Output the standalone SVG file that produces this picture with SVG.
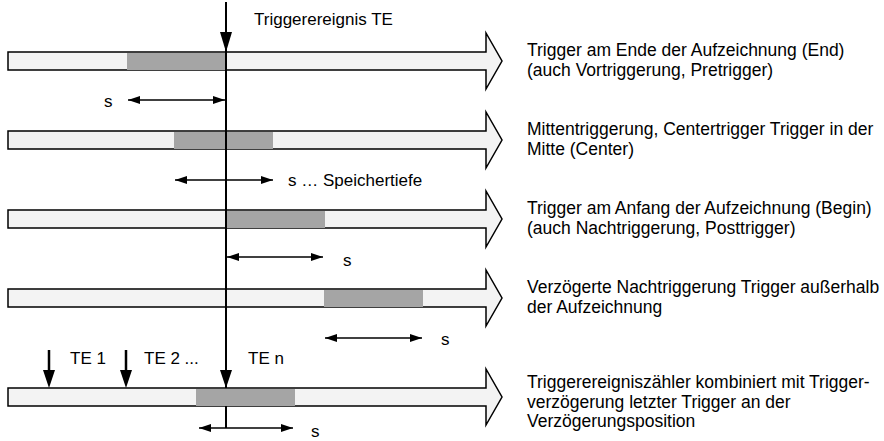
<svg xmlns="http://www.w3.org/2000/svg" width="884" height="441" viewBox="0 0 884 441">
  <defs>
    <style>
      .bar { fill: #f3f3f3; stroke: #000; stroke-width: 1.5; stroke-linejoin: miter; }
      .win { fill: #a5a5a5; stroke: none; }
      .axis { stroke: #000; stroke-width: 2; fill: none; }
      .dim { stroke: #000; stroke-width: 1.5; fill: none; marker-start: url(#tipStart); marker-end: url(#tipEnd); }
      .ev { stroke: #000; stroke-width: 2.5; fill: none; }
      .head { fill: #000; stroke: none; }
      text { font-family: "Liberation Sans", Arial, sans-serif; font-size: 17px; fill: #000; }
      .desc { font-size: 17.5px; }
    </style>
    <marker id="tipEnd" viewBox="0 0 12 8" refX="12" refY="4" markerWidth="12" markerHeight="8" markerUnits="userSpaceOnUse" orient="auto">
      <path d="M0,0 L12,4 L0,8 Z" fill="#000"/>
    </marker>
    <marker id="tipStart" viewBox="0 0 12 8" refX="0" refY="4" markerWidth="12" markerHeight="8" markerUnits="userSpaceOnUse" orient="auto">
      <path d="M12,0 L0,4 L12,8 Z" fill="#000"/>
    </marker>
    <!-- time axis arrow, bar top at y=0 -->
    <path id="timebar" d="M8,0 H486 V-19 L502,9 L486,37 V18 H8 Z"/>
  </defs>

  <!-- row 1: trigger at end -->
  <g id="row-end">
    <use href="#timebar" class="bar" y="52"/>
    <rect class="win" x="127" y="53" width="99" height="17"/>
    <text class="desc" x="527" y="56">Trigger am Ende der Aufzeichnung (End)</text>
    <text class="desc" x="527" y="75.5">(auch Vortriggerung, Pretrigger)</text>
  </g>

  <!-- row 2: center trigger -->
  <g id="row-center">
    <use href="#timebar" class="bar" y="131"/>
    <rect class="win" x="174" y="132" width="99" height="17"/>
    <text class="desc" x="527" y="135">Mittentriggerung, Centertrigger Trigger in der</text>
    <text class="desc" x="527" y="154.5">Mitte (Center)</text>
  </g>

  <!-- row 3: trigger at begin -->
  <g id="row-begin">
    <use href="#timebar" class="bar" y="210"/>
    <rect class="win" x="226" y="211" width="99" height="17"/>
    <text class="desc" x="527" y="214">Trigger am Anfang der Aufzeichnung (Begin)</text>
    <text class="desc" x="527" y="233.5">(auch Nachtriggerung, Posttrigger)</text>
  </g>

  <!-- row 4: delayed post trigger -->
  <g id="row-delayed">
    <use href="#timebar" class="bar" y="289"/>
    <rect class="win" x="324" y="290" width="99" height="17"/>
    <text class="desc" x="527" y="293">Verzögerte Nachtriggerung Trigger außerhalb</text>
    <text class="desc" x="527" y="312.5">der Aufzeichnung</text>
  </g>

  <!-- row 5: event counter -->
  <g id="row-counter">
    <use href="#timebar" class="bar" y="388"/>
    <rect class="win" x="196" y="389" width="99" height="17"/>
    <text class="desc" x="527" y="388">Triggerereigniszähler kombiniert mit Trigger-</text>
    <text class="desc" x="527" y="407.5">verzögerung letzter Trigger an der</text>
    <text class="desc" x="527" y="427">Verzögerungsposition</text>
  </g>

  <!-- trigger event and memory depth markers -->
  <g id="connectors">
    <line class="axis" x1="226" y1="2" x2="226" y2="388"/>
    <line class="axis" x1="226" y1="406" x2="226" y2="428"/>
    <path class="head" d="M220,32 L232,32 L226,52 Z"/>
    <text x="254" y="25">Triggerereignis TE</text>

    <line class="dim" x1="128" y1="100" x2="225" y2="100"/>
    <text x="104" y="107">s</text>

    <line class="dim" x1="175" y1="180" x2="273" y2="180"/>
    <text x="288" y="186">s … Speichertiefe</text>

    <line class="dim" x1="227" y1="257" x2="323" y2="257"/>
    <text x="343" y="266">s</text>

    <line class="dim" x1="325" y1="338" x2="422" y2="338"/>
    <text x="441" y="345">s</text>

    <line class="ev" x1="49" y1="350" x2="49" y2="372"/>
    <path class="head" d="M43,370 L55,370 L49,388 Z"/>
    <line class="ev" x1="126" y1="350" x2="126" y2="372"/>
    <path class="head" d="M120,370 L132,370 L126,388 Z"/>
    <path class="head" d="M220,370 L232,370 L226,388 Z"/>
    <text x="70" y="364">TE 1</text>
    <text x="144" y="364">TE 2 ...</text>
    <text x="248" y="364">TE n</text>

    <line class="dim" x1="199" y1="428" x2="293" y2="428"/>
    <text x="311" y="437">s</text>
  </g>
</svg>
